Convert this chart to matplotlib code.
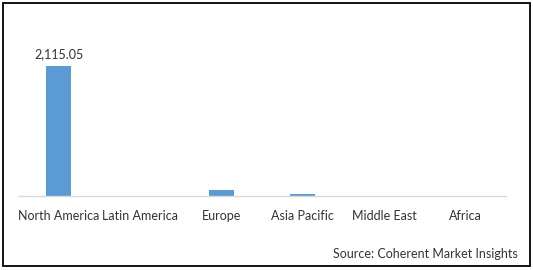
import matplotlib
matplotlib.use("Agg")
import matplotlib.pyplot as plt
from matplotlib.patches import Rectangle

categories = ["North America", "Latin America", "Europe", "Asia Pacific", "Middle East", "Africa"]
values = [2115.05, 0, 97, 30, 0, 0]
labels = ["2,115.05", "", "", "", "", ""]
source = "Source: Coherent Market Insights"

W, H = 533, 270
fig = plt.figure(figsize=(W / 100, H / 100), dpi=100)
plt.rcParams['font.family'] = ['Lato', 'DejaVu Sans']

ymax = 2400
ax_left, ax_right = 18, 506
base_y = 195.7
px_per_unit = 130 / 2115.05
ax_h = ymax * px_per_unit
ax = fig.add_axes([ax_left / W, (H - base_y) / H, (ax_right - ax_left) / W, ax_h / H])

x = list(range(len(categories)))
ax.bar(x, values, width=0.31, color="#5b9bd5")
ax.set_xlim(-0.5, len(categories) - 0.5)
ax.set_ylim(0, ymax)
for i, (v, lab) in enumerate(zip(values, labels)):
    if lab:
        ax.text(i, v + 95, lab, ha="center", va="bottom", fontsize=9, color="#333333")

for s in ["top", "right", "left"]:
    ax.spines[s].set_visible(False)
ax.spines["bottom"].set_color("#d9d9d9")
ax.spines["bottom"].set_linewidth(1.0)
ax.set_yticks([])
ax.set_xticks(x)
ax.set_xticklabels(categories, fontsize=9, color="#333333")
ax.tick_params(axis="x", length=0, pad=10)

fig.text(518 / W, 1 - 254 / H, source, ha="right", va="center", fontsize=9, color="#333333")

fig.patches.append(Rectangle((3 / W, 4 / H), 527 / W, 263 / H, transform=fig.transFigure,
                             fill=False, edgecolor="black", linewidth=1.3))

fig.savefig("out.png", dpi=100)
